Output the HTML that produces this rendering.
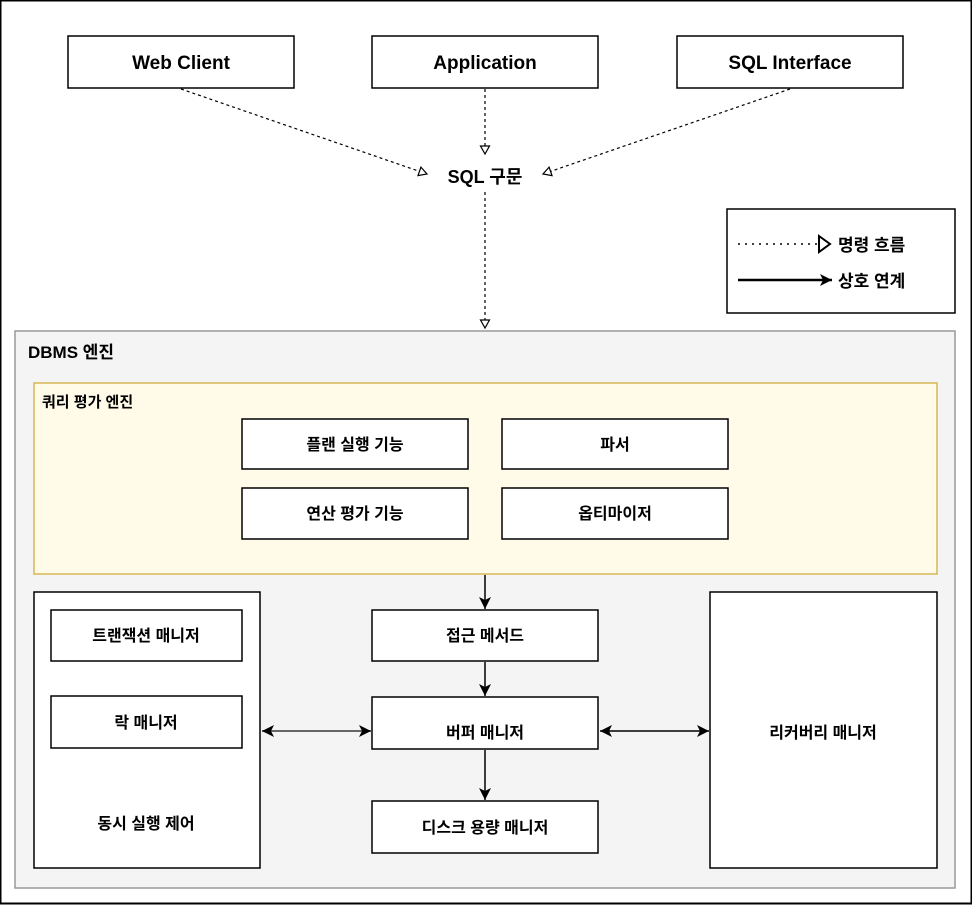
<!DOCTYPE html>
<html><head><meta charset="utf-8"><style>
body{margin:0;background:#fff;}
svg text{font-family:"Liberation Sans","Noto Sans CJK KR",sans-serif;font-weight:bold;}
</style></head><body>
<svg width="972" height="906" xmlns="http://www.w3.org/2000/svg">
<defs>
<marker id="open" markerWidth="12" markerHeight="12" refX="9" refY="6" orient="auto" markerUnits="userSpaceOnUse"><path d="M1,1.5 L9,6 L1,10.5 Z" fill="#fff" stroke="#000" stroke-width="1.2"/></marker>
<marker id="fill" markerWidth="14" markerHeight="14" refX="12" refY="7" orient="auto-start-reverse" markerUnits="userSpaceOnUse"><path d="M0,1 L12,7 L0,13 L3,7 Z" fill="#000"/></marker>
</defs>
<rect x="0.5" y="0.5" width="971" height="903" fill="#fff" stroke="#000" stroke-width="2"/>
<g stroke="#000" stroke-width="1.5" fill="#fff">
<rect x="68" y="36" width="226" height="52"/>
<rect x="372" y="36" width="226" height="52"/>
<rect x="677" y="36" width="226" height="52"/>
</g>
<g font-size="19" text-anchor="middle">
<text x="181" y="69">Web Client</text>
<text x="485" y="69">Application</text>
<text x="790" y="69">SQL Interface</text>
</g>
<g stroke="#000" stroke-width="1.2" stroke-dasharray="3,3" fill="none">
<line x1="181" y1="89" x2="427" y2="174" marker-end="url(#open)"/>
<line x1="485" y1="89" x2="485" y2="154" marker-end="url(#open)"/>
<line x1="790" y1="89" x2="543" y2="174" marker-end="url(#open)"/>
<line x1="485" y1="192" x2="485" y2="328" marker-end="url(#open)"/>
</g>
<text x="485" y="183" font-size="18" text-anchor="middle">SQL 구문</text>
<rect x="727" y="209" width="228" height="104" fill="#fff" stroke="#000" stroke-width="1.5"/>
<line x1="738" y1="244" x2="818" y2="244" stroke="#000" stroke-width="1.5" stroke-dasharray="2,5"/>
<path d="M819,236 L830,244 L819,252 Z" fill="#fff" stroke="#000" stroke-width="2"/>
<line x1="738" y1="280" x2="832" y2="280" stroke="#000" stroke-width="2.5" marker-end="url(#fill)"/>
<text x="838" y="251" font-size="17">명령 흐름</text>
<text x="838" y="287" font-size="17">상호 연계</text>
<rect x="15" y="331" width="940" height="557" fill="#f4f4f4" stroke="#999" stroke-width="1.5"/>
<text x="28" y="358" font-size="17">DBMS 엔진</text>
<rect x="34" y="383" width="903" height="191" fill="#fffbe8" stroke="#d6b656" stroke-width="1.5"/>
<text x="42" y="407" font-size="15">쿼리 평가 엔진</text>
<g stroke="#000" stroke-width="1.5" fill="#fff">
<rect x="242" y="419" width="226" height="50"/>
<rect x="502" y="419" width="226" height="50"/>
<rect x="242" y="488" width="226" height="51"/>
<rect x="502" y="488" width="226" height="51"/>
<rect x="34" y="592" width="226" height="276"/>
<rect x="51" y="610" width="191" height="51"/>
<rect x="51" y="696" width="191" height="52"/>
<rect x="372" y="610" width="226" height="51"/>
<rect x="372" y="697" width="226" height="52"/>
<rect x="372" y="801" width="226" height="52"/>
<rect x="710" y="592" width="227" height="276"/>
</g>
<g font-size="16" text-anchor="middle">
<text x="355" y="450">플랜 실행 기능</text>
<text x="615" y="450">파서</text>
<text x="355" y="519">연산 평가 기능</text>
<text x="615" y="519">옵티마이저</text>
<text x="146" y="641">트랜잭션 매니저</text>
<text x="146" y="728">락 매니저</text>
<text x="146" y="829">동시 실행 제어</text>
<text x="485" y="641">접근 메서드</text>
<text x="485" y="738">버퍼 매니저</text>
<text x="485" y="833">디스크 용량 매니저</text>
<text x="823" y="738">리커버리 매니저</text>
</g>
<g stroke="#000" stroke-width="1.5">
<line x1="485" y1="575" x2="485" y2="609" marker-end="url(#fill)"/>
<line x1="485" y1="662" x2="485" y2="696" marker-end="url(#fill)"/>
<line x1="485" y1="750" x2="485" y2="800" marker-end="url(#fill)"/>
<line x1="262" y1="731" x2="371" y2="731" stroke="#666" stroke-width="2" marker-start="url(#fill)" marker-end="url(#fill)"/>
<line x1="600" y1="731" x2="709" y2="731" marker-start="url(#fill)" marker-end="url(#fill)"/>
</g>
</svg>
</body></html>
